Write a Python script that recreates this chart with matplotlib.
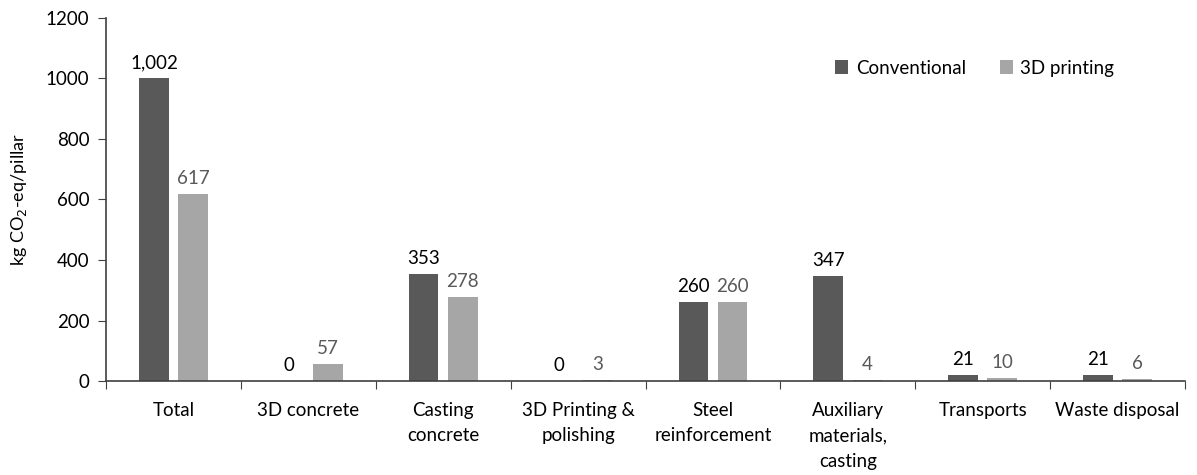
import numpy as np
import matplotlib.pyplot as plt

plt.rcParams['font.family'] = ['Lato', 'DejaVu Sans']

categories = ['Total', '3D concrete', 'Casting\nconcrete', '3D Printing &\npolishing',
              'Steel\nreinforcement', 'Auxiliary\nmaterials,\ncasting', 'Transports',
              'Waste disposal']
conventional = [1002, 0, 353, 0, 260, 347, 21, 21]
printing_3d = [617, 57, 278, 3, 260, 4, 10, 6]
conv_labels = ['1,002', '0', '353', '0', '260', '347', '21', '21']
print_labels = ['617', '57', '278', '3', '260', '4', '10', '6']

dark = '#595959'
light = '#a6a6a6'
fs = 13.5

fig = plt.figure(figsize=(11.97, 4.75), dpi=100)
ax = fig.add_axes([106 / 1197, 1 - 381 / 475, 1079 / 1197, 363 / 475])

x = np.arange(len(categories))
w = 0.22
off = 0.145
ax.bar(x - off, conventional, w, color=dark, label='Conventional')
ax.bar(x + off, printing_3d, w, color=light, label='3D printing')

for i in range(len(x)):
    ax.annotate(conv_labels[i], (x[i] - off, conventional[i]), xytext=(0, 5),
                textcoords='offset points', ha='center', va='bottom',
                fontsize=fs, color='black')
    ax.annotate(print_labels[i], (x[i] + off, printing_3d[i]), xytext=(0, 5),
                textcoords='offset points', ha='center', va='bottom',
                fontsize=fs, color='#595959')

ax.set_xlim(-0.5, len(x) - 0.5)
ax.set_ylim(0, 1200)
ax.set_yticks(range(0, 1201, 200))
ax.set_xticks(np.arange(-0.5, len(x)), labels=[''] * (len(x) + 1))
ax.set_xticks(x, labels=categories, minor=True)
for lbl in ax.get_xticklabels(minor=True):
    lbl.set_linespacing(1.6)
ax.tick_params(axis='x', which='major', length=6, direction='out', color='#404040')
ax.tick_params(axis='x', which='minor', length=0, pad=15, labelsize=fs)
ax.tick_params(axis='y', length=6, direction='out', labelsize=fs, color='#404040', pad=6)

for s in ['top', 'right']:
    ax.spines[s].set_visible(False)
for s in ['left', 'bottom']:
    ax.spines[s].set_color('#404040')
    ax.spines[s].set_linewidth(1.2)

ax.set_ylabel('kg CO$_2$-eq/pillar', fontsize=fs - 0.5, labelpad=12)

ax.legend(loc='center left', bbox_to_anchor=(0.66, 0.862), ncol=2, frameon=False,
          fontsize=fs, handlelength=0.7, handleheight=0.7, handletextpad=0.4,
          columnspacing=1.8)

fig.savefig('out.png', dpi=100)
